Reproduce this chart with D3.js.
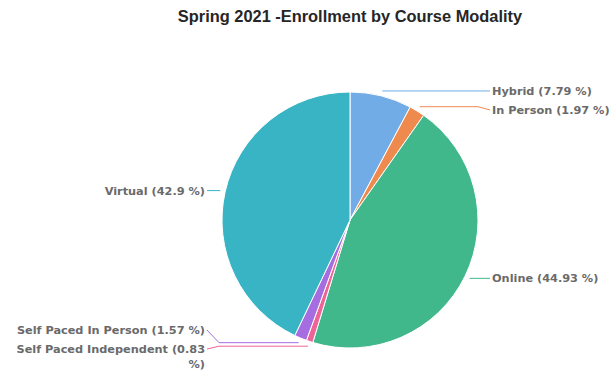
<!DOCTYPE html>
<html>
<head>
<meta charset="utf-8">
<script src="https://cdn.jsdelivr.net/npm/d3@7"></script>
<style>
  html, body { margin: 0; padding: 0; background: #fff; }
  svg { display: block; }
</style>
</head>
<body>
<svg id="chart" width="613" height="371"></svg>
<script>
// Enrollment share by course modality, clockwise from 12 o'clock
const categories = ["Hybrid", "In Person", "Online", "Self Paced Independent", "Self Paced In Person", "Virtual"];
const shares = [7.79, 1.97, 44.93, 0.83, 1.57, 42.9];
const sliceColors = ["#72ace7", "#ef8a4e", "#41b78c", "#ee6496", "#a56de0", "#38b4c4"];
const title = "Spring 2021 -Enrollment by Course Modality";

const W = 613, H = 371;
const cx = 350, cy = 220, R = 128;
const labelFont = "'DejaVu Sans', Verdana, sans-serif";

const svg = d3.select("#chart");

svg.append("text")
  .attr("x", cx).attr("y", 22)
  .attr("text-anchor", "middle")
  .attr("font-family", "'Liberation Sans', Arial, sans-serif")
  .attr("font-weight", "bold")
  .attr("font-size", 16.4)
  .attr("fill", "#262626")
  .text(title);

const data = categories.map((c, i) => ({ name: c, value: shares[i], color: sliceColors[i] }));

const pie = d3.pie().sort(null).value(d => d.value);
const arcs = pie(data);
const arcGen = d3.arc().innerRadius(0).outerRadius(R);

const g = svg.append("g").attr("transform", `translate(${cx},${cy})`);

g.selectAll("path.slice")
  .data(arcs)
  .join("path")
  .attr("class", "slice")
  .attr("d", arcGen)
  .attr("fill", d => d.data.color)
  .attr("stroke", "#ffffff")
  .attr("stroke-width", 1)
  .attr("stroke-linejoin", "round");

// Label layout: connector starts just outside the rim at each slice's mid angle
const rimGap = 5, crook = 12, lineH = 15;
const labels = arcs.map(a => {
  const mid = (a.startAngle + a.endAngle) / 2;
  const sx = cx + (R + rimGap) * Math.sin(mid);
  const sy = cy - (R + rimGap) * Math.cos(mid);
  const right = Math.sin(mid) >= 0;
  return {
    a, mid, sx, sy, right,
    text: `${a.data.name} (${a.data.value} %)`,
    color: a.data.color,
    y: sy
  };
});

const textLayer = svg.append("g")
  .attr("font-family", labelFont)
  .attr("font-weight", "bold")
  .attr("font-size", 11.3)
  .attr("fill", "#6a6a6a");

const rightX = cx + R + 14;
const leftX = cx - R - 17;

// Build the text nodes, wrapping words past the available width
labels.forEach(l => {
  const t = textLayer.append("text")
    .attr("text-anchor", l.right ? "start" : "end");
  const maxW = l.right ? (W - rightX + 10) : (leftX - 4);
  const words = l.text.split(" ");
  const lines = [];
  let cur = [];
  const probe = t.append("tspan");
  words.forEach(w => {
    const trial = cur.concat([w]).join(" ");
    probe.text(trial);
    if (cur.length && probe.node().getComputedTextLength() > maxW) {
      lines.push(cur.join(" "));
      cur = [w];
    } else {
      cur.push(w);
    }
  });
  lines.push(cur.join(" "));
  probe.remove();
  l.lines = lines;
  l.node = t;
});

// Resolve overlaps on each side, keeping multi-line labels inside the canvas
["left", "right"].forEach(side => {
  const group = labels.filter(l => (side === "right") === l.right).sort((p, q) => p.y - q.y);
  for (let i = 1; i < group.length; i++) {
    const prev = group[i - 1];
    const minY = prev.y + prev.lines.length * lineH + 4;
    if (group[i].y < minY) group[i].y = minY;
  }
  for (let i = group.length - 1; i >= 0; i--) {
    const l = group[i];
    const maxY = i === group.length - 1
      ? H - (l.lines.length - 1) * lineH - 7
      : group[i + 1].y - l.lines.length * lineH - 4;
    if (l.y > maxY) l.y = maxY;
  }
});

labels.forEach(l => {
  const x = l.right ? rightX : leftX;
  l.node.attr("x", x).attr("y", l.y);
  l.node.selectAll("tspan")
    .data(l.lines)
    .join("tspan")
    .attr("x", x)
    .attr("dy", (d, i) => i === 0 ? "0.35em" : lineH)
    .text(d => d);

  const endX = l.right ? x - 2 : x + 2;
  const crookX = l.right ? endX - crook : endX + crook;
  const pts = [[l.sx, l.sy], [crookX, l.sy], [endX, l.y]];
  svg.append("path")
    .attr("d", d3.line()(pts))
    .attr("fill", "none")
    .attr("stroke", l.color)
    .attr("stroke-width", 1);
});
</script>
</body>
</html>
